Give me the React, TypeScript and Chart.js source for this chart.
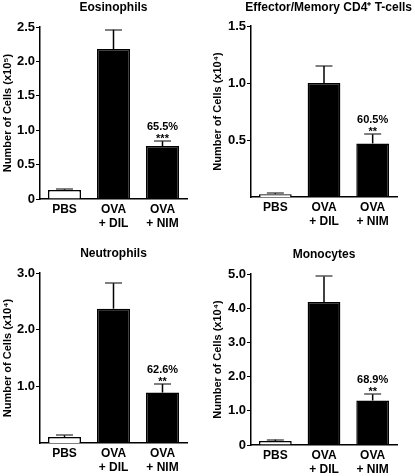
import React, { useEffect, useRef } from "react";
import { Chart, registerables } from "chart.js";

Chart.register(...registerables);

const categories: (string | string[])[] = ["PBS", ["OVA", "+ DIL"], ["OVA", "+ NIM"]];

const eosinophilMeans = [0.13, 2.18, 0.77];
const eosinophilErrors = [0.01, 0.28, 0.07];
const effectorMeans = [0.025, 1.0, 0.47];
const effectorErrors = [0.008, 0.15, 0.08];
const neutrophilMeans = [0.105, 2.37, 0.89];
const neutrophilErrors = [0.03, 0.45, 0.15];
const monocyteMeans = [0.12, 4.18, 1.3];
const monocyteErrors = [0.035, 0.75, 0.18];

const panelTitles = ["Eosinophils", "Effector/Memory CD4\u207A T-cells", "Neutrophils", "Monocytes"];
const yTitles = [
  "Number of Cells (x10\u2075)",
  "Number of Cells (x10\u2074)",
  "Number of Cells (x10\u2074)",
  "Number of Cells (x10\u2074)",
];
const yMax = [2.5, 1.5, 3.0, 5.0];
const yStep = [0.5, 0.5, 1.0, 1.0];
const showZeroTick = [true, false, false, true];
const inhibitionLabels = ["65.5%", "60.5%", "62.6%", "68.9%"];
const significanceLabels = ["***", "**", "**", "**"];

const FONT = "'Liberation Sans', Arial, Helvetica, sans-serif";

type Layout = {
  left: number;
  top: number;
  width: number;
  height: number;
  titlePadTop: number;
  titleHeight: number;
  xAxisHeight: number;
  yAxisWidth: number;
  padRight: number;
  rightSpacer: number;
  titleEnd: boolean;
  yTitlePad: number;
  xLabelPad: number;
};

const layouts: Layout[] = [
  { left: 0, top: 0, width: 207, height: 236, titlePadTop: 0, titleHeight: 27, xAxisHeight: 37, yAxisWidth: 40, padRight: 20, rightSpacer: 0, titleEnd: false, yTitlePad: 1.4, xLabelPad: 4 },
  { left: 207, top: 0, width: 208, height: 236, titlePadTop: 0.5, titleHeight: 26, xAxisHeight: 39, yAxisWidth: 44, padRight: 3, rightSpacer: 15, titleEnd: true, yTitlePad: 4.4, xLabelPad: 4 },
  { left: 0, top: 238, width: 207, height: 238, titlePadTop: 8.8, titleHeight: 35, xAxisHeight: 33, yAxisWidth: 40, padRight: 20, rightSpacer: 0, titleEnd: false, yTitlePad: 1.4, xLabelPad: 4 },
  { left: 207, top: 238, width: 208, height: 238, titlePadTop: 9.8, titleHeight: 36, xAxisHeight: 31, yAxisWidth: 44, padRight: 18, rightSpacer: 0, titleEnd: false, yTitlePad: 4.4, xLabelPad: 4 },
];

const seriesMeans = [eosinophilMeans, effectorMeans, neutrophilMeans, monocyteMeans];
const seriesErrors = [eosinophilErrors, effectorErrors, neutrophilErrors, monocyteErrors];

function Panel({ index }: { index: number }) {
  const ref = useRef<HTMLCanvasElement | null>(null);
  const L = layouts[index];

  useEffect(() => {
    if (!ref.current) return;
    const means = seriesMeans[index];
    const errors = seriesErrors[index];
    const pct = inhibitionLabels[index];
    const stars = significanceLabels[index];

    const errorPlugin = {
      id: "errorBars" + index,
      afterDatasetsDraw(chart: any) {
        const ctx = chart.ctx as CanvasRenderingContext2D;
        const meta = chart.getDatasetMeta(0);
        const y = chart.scales.y;
        meta.data.forEach((bar: any, i: number) => {
          const topPx = y.getPixelForValue(means[i] + errors[i]);
          const x = bar.x;
          ctx.save();
          ctx.strokeStyle = "#000";
          ctx.lineWidth = 1.5;
          ctx.beginPath();
          ctx.moveTo(x, bar.y);
          ctx.lineTo(x, topPx);
          ctx.stroke();
          ctx.lineWidth = 1;
          ctx.beginPath();
          ctx.moveTo(x - 8.5, Math.round(topPx));
          ctx.lineTo(x + 8.5, Math.round(topPx));
          ctx.stroke();
          if (i === 2) {
            ctx.fillStyle = "#000";
            ctx.font = "bold 11px " + FONT;
            ctx.textAlign = "center";
            ctx.textBaseline = "middle";
            ctx.fillText(pct, x, topPx - 14);
            ctx.textBaseline = "alphabetic";
            ctx.fillText(stars, x, topPx + 1);
          }
          ctx.restore();
        });
      },
    };

    const scales: any = {
      x: {
        grid: { display: false, drawTicks: false },
        border: { display: true, color: "#000", width: 1.5 },
        ticks: {
          color: "#000",
          padding: L.xLabelPad,
          maxRotation: 0,
          autoSkip: false,
          font: { family: FONT, size: 12, weight: "bold", lineHeight: 1.125 },
        },
        afterFit: (scale: any) => {
          scale.height = L.xAxisHeight;
        },
      },
      y: {
        min: 0,
        max: yMax[index],
        grid: { display: true, drawOnChartArea: false, drawTicks: true, tickLength: 4, color: "#000", lineWidth: 1 },
        border: { display: true, color: "#000", width: 1.5 },
        ticks: {
          stepSize: yStep[index],
          color: "#000",
          padding: 1,
          font: { family: FONT, size: 13, weight: "bold" },
          callback: (v: any) => (Number(v) === 0 ? "0" : Number(v).toFixed(1)),
        },
        afterBuildTicks: (scale: any) => {
          if (!showZeroTick[index]) {
            scale.ticks = scale.ticks.filter((t: any) => t.value !== 0);
          }
        },
        title: {
          display: true,
          text: yTitles[index],
          color: "#000",
          font: { family: FONT, size: 11, weight: "bold", lineHeight: 1.2 },
          padding: { top: L.yTitlePad, bottom: 0 },
        },
        afterFit: (scale: any) => {
          scale.width = L.yAxisWidth;
        },
      },
    };
    if (L.rightSpacer > 0) {
      scales.ySpacer = {
        type: "linear",
        position: "right",
        display: true,
        grid: { display: false, drawTicks: false },
        border: { display: false },
        ticks: { display: false },
        afterFit: (scale: any) => {
          scale.width = L.rightSpacer;
        },
      };
    }

    const chart = new Chart(ref.current, {
      type: "bar",
      data: {
        labels: categories as any,
        datasets: [
          {
            data: means,
            backgroundColor: ["#ffffff", "#000000", "#000000"],
            borderColor: "#000000",
            borderWidth: 1.5,
            barPercentage: 0.673,
            categoryPercentage: 1,
            yAxisID: "y",
          },
        ],
      },
      options: {
        responsive: false,
        animation: false,
        layout: { padding: { left: 0, right: L.padRight, top: 0, bottom: 0 } },
        plugins: {
          legend: { display: false },
          tooltip: { enabled: false },
          title: {
            display: true,
            text: panelTitles[index],
            fullSize: L.titleEnd,
            align: L.titleEnd ? "end" : "center",
            color: "#000",
            font: { family: FONT, size: 12, weight: "bold", lineHeight: 1.2 },
            padding: { top: L.titlePadTop, bottom: L.titleHeight - L.titlePadTop - 14.4 },
          },
        },
        scales,
      },
      plugins: [errorPlugin],
    } as any);

    return () => chart.destroy();
  }, [index]);

  return (
    <canvas
      ref={ref}
      width={L.width}
      height={L.height}
      style={{ position: "absolute", left: L.left, top: L.top, width: L.width, height: L.height, display: "block" }}
    />
  );
}

export default function App() {
  return (
    <div style={{ position: "absolute", left: 0, top: 0, width: 415, height: 476, background: "#fff" }}>
      {[0, 1, 2, 3].map((i) => (
        <Panel key={i} index={i} />
      ))}
    </div>
  );
}
